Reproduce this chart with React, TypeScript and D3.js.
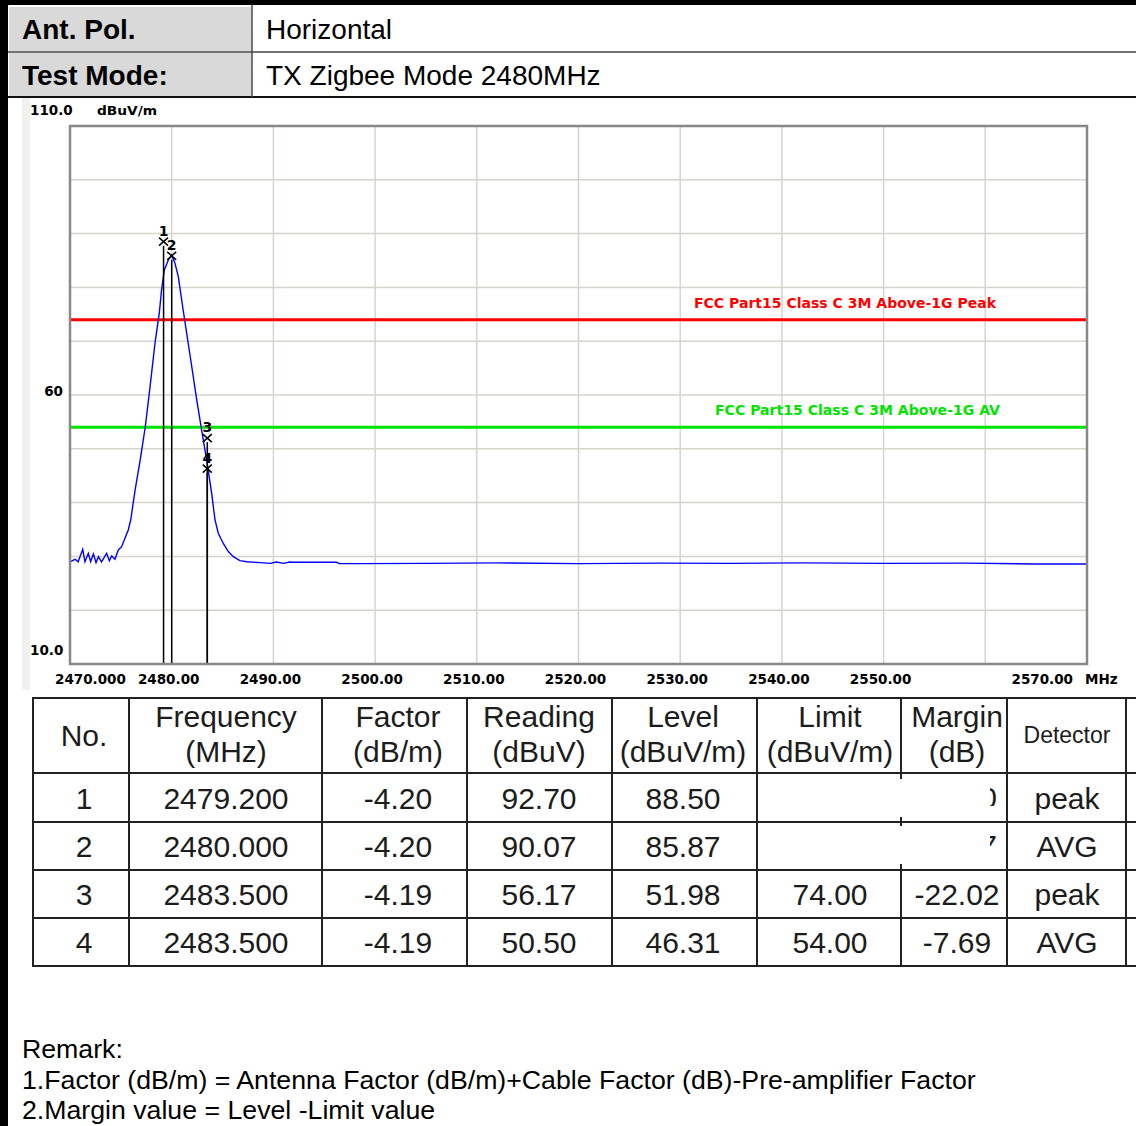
import React from "react";
import * as d3 from "d3";

// ---------- header ----------
const headerLabels = ["Ant. Pol.", "Test Mode:"];
const headerValues = ["Horizontal", "TX Zigbee Mode 2480MHz"];

// ---------- chart data ----------
const traceFreq = [
  2470.0, 2470.5, 2470.8, 2471.25, 2471.47, 2471.8, 2472.03, 2472.3, 2472.56, 2472.8,
  2473.1, 2473.6, 2473.87, 2474.1, 2474.42, 2474.75, 2475.08, 2475.4, 2475.73, 2475.97,
  2476.4, 2476.9, 2477.4, 2477.87, 2478.36, 2478.78, 2479.0, 2479.27, 2479.67, 2480.0,
  2480.32, 2480.65, 2481.08, 2481.47, 2481.97, 2482.46, 2483.05, 2483.44, 2483.93, 2484.26,
  2484.58, 2485.07, 2485.57, 2486.06, 2486.7, 2487.4, 2488.7, 2489.7, 2490.3, 2491.0,
  2491.6, 2491.9, 2496.2, 2496.5, 2498.5, 2505.0, 2512.0, 2520.0, 2528.0, 2535.0,
  2542.0, 2550.0, 2558.0, 2565.0, 2570.0,
];
const traceLevel = [
  29.0, 29.46, 29.0, 31.32, 29.0, 30.57, 29.0, 30.45, 28.84, 29.95,
  29.0, 30.57, 29.2, 30.07, 29.46, 31.2, 31.8, 33.36, 34.9, 36.77,
  42.3, 47.9, 54.05, 61.5, 69.7, 75.2, 79.5, 83.2, 85.1, 86.0,
  84.5, 82.0, 76.4, 71.5, 65.3, 59.1, 52.25, 47.9, 41.7, 36.77,
  34.3, 32.4, 30.9, 29.95, 29.2, 29.0, 28.84, 28.7, 28.96, 28.7,
  28.96, 28.9, 28.9, 28.65, 28.65, 28.7, 28.8, 28.65, 28.75, 28.7,
  28.8, 28.7, 28.75, 28.6, 28.6,
];

const markerNo = ["1", "2", "3", "4"];
const markerFreq = [2479.2, 2480.0, 2483.5, 2483.5];
const markerLevel = [88.5, 85.87, 51.98, 46.31];

const limitValues = [74, 54];
const limitLabels = ["FCC Part15 Class C 3M Above-1G Peak", "FCC Part15 Class C 3M Above-1G AV"];
const limitColors = ["#ff0000", "#00e400"];

const xGridValues = [2480, 2490, 2500, 2510, 2520, 2530, 2540, 2550, 2560];
const yGridValues = [20, 30, 40, 50, 60, 70, 80, 90, 100];
const xTickValues = [2470, 2480, 2490, 2500, 2510, 2520, 2530, 2540, 2550, 2570];
const xTickLabels = ["2470.000", "2480.00", "2490.00", "2500.00", "2510.00", "2520.00", "2530.00", "2540.00", "2550.00", "2570.00"];
const yTickValues = [110, 60, 10];
const yTickLabels = ["110.0", "60", "10.0"];

// ---------- table data ----------
const tableHead1 = ["No.", "Frequency", "Factor", "Reading", "Level", "Limit", "Margin", "Detector"];
const tableHead2 = ["", "(MHz)", "(dB/m)", "(dBuV)", "(dBuV/m)", "(dBuV/m)", "(dB)", ""];
const tableNo = ["1", "2", "3", "4"];
const tableFreq = ["2479.200", "2480.000", "2483.500", "2483.500"];
const tableFactor = ["-4.20", "-4.20", "-4.19", "-4.19"];
const tableReading = ["92.70", "90.07", "56.17", "50.50"];
const tableLevel = ["88.50", "85.87", "51.98", "46.31"];
const tableLimit = ["", "", "74.00", "54.00"];
const tableMargin = ["", "", "-22.02", "-7.69"];
const tableDetector = ["peak", "AVG", "peak", "AVG"];

const remarks = [
  "Remark:",
  "1.Factor (dB/m) = Antenna Factor (dB/m)+Cable Factor (dB)-Pre-amplifier Factor",
  "2.Margin value = Level -Limit value",
];

export default function App() {
  const W = 1136, H = 1126;
  const x = d3.scaleLinear().domain([2470, 2570]).range([70, 1087]);
  const y = d3.scaleLinear().domain([10, 110]).range([664, 126]);
  const line = d3.line<number>().x((_, i) => x(traceFreq[i])).y((d) => y(d));
  const tracePath = line(traceLevel) || "";

  const arial = "'Liberation Sans', Arial, sans-serif";
  const pix = "'DejaVu Sans', sans-serif";

  const colX = [33, 129, 322, 467, 612, 757, 901, 1007, 1126];
  const rowY = [698, 773, 822, 870, 918, 966];
  const colCenters = [84, 226, 398, 539, 683, 830, 957, 1067];
  const tableCols = [tableNo, tableFreq, tableFactor, tableReading, tableLevel, tableLimit, tableMargin, tableDetector];

  const tc = "#1c1c1c";

  return (
    <svg width={W} height={H} style={{ position: "absolute", left: 0, top: 0, background: "#fff" }}>
      <rect x={0} y={0} width={W} height={H} fill="#fff" />
      {/* header */}
      {headerLabels.map((lab, i) => (
        <g key={lab}>
          <rect x={9} y={7 + i * 46} width={242} height={44} fill="#d9d9d9" />
          <text x={22} y={39 + i * 46} fontFamily={arial} fontWeight="bold" fontSize={28} fill="#000">{lab}</text>
          <text x={266} y={39 + i * 46} fontFamily={arial} fontSize={28} fill="#000">{headerValues[i]}</text>
        </g>
      ))}
      <line x1={8} x2={W} y1={52} y2={52} stroke="#444" strokeWidth={1.5} />
      <line x1={8} x2={W} y1={97} y2={97} stroke="#111" strokeWidth={2} />
      <line x1={252} x2={252} y1={5} y2={97} stroke="#444" strokeWidth={1.5} />
      <rect x={0} y={0} width={W} height={5} fill="#000" />
      <rect x={0} y={0} width={8} height={H} fill="#000" />

      {/* chart background strip */}
      <rect x={22} y={98} width={8} height={592} fill="#f0f0f0" />

      {/* grid */}
      {xGridValues.map((v) => (
        <line key={"xg" + v} x1={x(v)} x2={x(v)} y1={y(110)} y2={y(10)} stroke="#d8d4cc" strokeWidth={1.5} />
      ))}
      {yGridValues.map((v) => (
        <line key={"yg" + v} x1={x(2470)} x2={x(2570)} y1={y(v)} y2={y(v)} stroke="#d8d4cc" strokeWidth={1.5} />
      ))}

      {/* limit lines */}
      {limitValues.map((v, i) => (
        <g key={"lim" + i}>
          <line x1={x(2470)} x2={x(2570)} y1={y(v)} y2={y(v)} stroke={limitColors[i]} strokeWidth={3} />
          <text
            x={i === 0 ? 694 : 715}
            y={y(v) - 12}
            fontFamily={pix}
            fontWeight="bold"
            fontSize={14}
            fill={limitColors[i]}
            textLength={i === 0 ? 302 : 285}
            lengthAdjust="spacingAndGlyphs"
          >
            {limitLabels[i]}
          </text>
        </g>
      ))}

      {/* trace */}
      <path d={tracePath} fill="none" stroke="#0000ff" strokeWidth={1.4} />

      {/* markers */}
      {markerNo.map((n, i) => {
        const mx = x(markerFreq[i]);
        const my = y(markerLevel[i]);
        return (
          <g key={"m" + n}>
            <line x1={mx} x2={mx} y1={my + 4} y2={y(10)} stroke="#000" strokeWidth={1.5} />
            <path d={`M${mx - 4.5},${my - 4}L${mx + 4.5},${my + 4}M${mx - 4.5},${my + 4}L${mx + 4.5},${my - 4}`} stroke="#000" strokeWidth={1.5} />
            <text x={mx} y={my - 6} textAnchor="middle" fontFamily={pix} fontWeight="bold" fontSize={14} fill="#000">{n}</text>
          </g>
        );
      })}

      {/* frame */}
      <rect x={x(2470)} y={y(110)} width={x(2570) - x(2470)} height={y(10) - y(110)} fill="none" stroke="#888" strokeWidth={2.5} />

      {/* axis labels */}
      {xTickValues.map((v, i) => {
        const first = i === 0;
        const last = i === xTickValues.length - 1;
        return (
          <text
            key={"xt" + v}
            x={first ? x(v) - 15 : last ? x(v) - 14 : x(v) - 3}
            y={684}
            textAnchor={first ? "start" : last ? "end" : "middle"}
            fontFamily={pix}
            fontWeight="bold"
            fontSize={13.5}
            fill="#000"
          >
            {xTickLabels[i]}
          </text>
        );
      })}
      <text x={1085} y={684} fontFamily={pix} fontWeight="bold" fontSize={13.5} fill="#000">MHz</text>
      {yTickValues.map((v, i) => (
        <text
          key={"yt" + v}
          x={i === 1 ? 63 : 30}
          y={v === 110 ? 115 : v === 60 ? y(v) + 1 : y(v) - 9}
          textAnchor={i === 1 ? "end" : "start"}
          fontFamily={pix}
          fontWeight="bold"
          fontSize={13.5}
          fill="#000"
        >
          {yTickLabels[i]}
        </text>
      ))}
      <text x={97} y={115} fontFamily={pix} fontWeight="bold" fontSize={13} textLength={60} lengthAdjust="spacingAndGlyphs" fill="#000">dBuV/m</text>

      {/* table */}
      {rowY.map((ry, i) => (
        <line key={"tr" + i} x1={32} x2={W} y1={ry} y2={ry} stroke="#222" strokeWidth={2} />
      ))}
      {colX.map((cx, i) =>
        i === 6 ? (
          <g key={"tc" + i}>
            <line x1={cx} x2={cx} y1={rowY[0]} y2={779} stroke="#222" strokeWidth={2} />
            <line x1={cx} x2={cx} y1={817} y2={826} stroke="#222" strokeWidth={2} />
            <line x1={cx} x2={cx} y1={864} y2={rowY[5]} stroke="#222" strokeWidth={2} />
          </g>
        ) : (
          <line key={"tc" + i} x1={cx} x2={cx} y1={rowY[0]} y2={rowY[5]} stroke="#222" strokeWidth={2} />
        )
      )}
      {tableHead1.map((h, i) => {
        const two = tableHead2[i] !== "";
        const isDet = i === 7;
        return (
          <g key={"th" + i}>
            <text
              x={colCenters[i]}
              y={two ? 727 : isDet ? 743 : 746}
              textAnchor="middle"
              fontFamily={arial}
              fontSize={isDet ? 23 : 30}
              fill={tc}
            >
              {h}
            </text>
            {two && (
              <text x={colCenters[i]} y={762} textAnchor="middle" fontFamily={arial} fontSize={30} fill={tc}>
                {tableHead2[i]}
              </text>
            )}
          </g>
        );
      })}
      {tableCols.map((col, c) =>
        col.map((val, r) => (
          <text
            key={"td" + c + "_" + r}
            x={colCenters[c]}
            y={(rowY[r + 1] + rowY[r + 2]) / 2 + 11}
            textAnchor="middle"
            fontFamily={arial}
            fontSize={30}
            fill={tc}
          >
            {val}
          </text>
        ))
      )}
      {/* remnants of covered values */}
      <defs>
        <clipPath id="frag1"><rect x={990} y={786} width={9} height={20} /></clipPath>
        <clipPath id="frag2"><rect x={990} y={834} width={8} height={12} /></clipPath>
      </defs>
      <text x={997} y={808} textAnchor="end" fontFamily={arial} fontSize={30} fill={tc} clipPath="url(#frag1)">0</text>
      <text x={997} y={856} textAnchor="end" fontFamily={arial} fontSize={30} fill={tc} clipPath="url(#frag2)">7</text>

      {/* remarks */}
      {remarks.map((r, i) => (
        <text key={"rm" + i} x={22} y={1058 + i * 30.5} fontFamily={arial} fontSize={26.7} fill="#000">{r}</text>
      ))}
    </svg>
  );
}
